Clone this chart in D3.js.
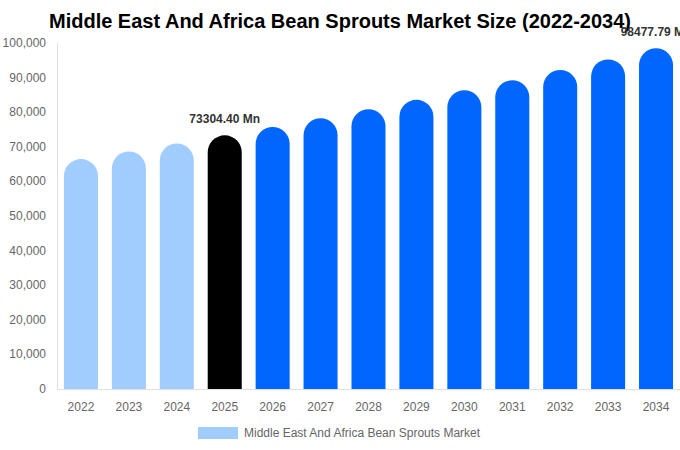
<!DOCTYPE html>
<html>
<head>
<meta charset="utf-8">
<script src="https://cdn.jsdelivr.net/npm/d3@7"></script>
<style>
  body { margin: 0; background: #fff; }
  text { font-family: "Liberation Sans", Arial, sans-serif; }
</style>
</head>
<body>
<script>
// chart data
var years = ["2022","2023","2024","2025","2026","2027","2028","2029","2030","2031","2032","2033","2034"];
var values = [66440, 68650, 70940, 73304.40, 75750, 78270, 80870, 83570, 86350, 89220, 92200, 95270, 98477.79];
var yTicks = [0, 10000, 20000, 30000, 40000, 50000, 60000, 70000, 80000, 90000, 100000];
var labelled = {"2025": "73304.40 Mn", "2034": "98477.79 Mn"};

var w = 680, h = 450;

var svg = d3.select("body").append("svg")
    .attr("width", w)
    .attr("height", h);

var x = d3.scaleBand()
    .domain(years)
    .range([57, 680])
    .paddingInner(0.29)
    .paddingOuter(0.145);

var y = d3.scaleLinear()
    .domain([0, 100000])
    .range([389, 43]);

function color(yr) {
  if (+yr < 2025) return "#a0cdfe";
  if (+yr == 2025) return "#000000";
  return "#0066fe";
}

// title
svg.append("text")
    .attr("x", 340)
    .attr("y", 28)
    .attr("text-anchor", "middle")
    .style("font-size", "20px")
    .style("font-weight", "bold")
    .style("fill", "#000")
    .text("Middle East And Africa Bean Sprouts Market Size (2022-2034)");

// y axis labels
svg.selectAll(".ytick")
    .data(yTicks)
  .enter().append("text")
    .attr("class", "ytick")
    .attr("x", 46)
    .attr("y", function(d) { return y(d) + 4; })
    .attr("text-anchor", "end")
    .style("font-size", "12px")
    .style("fill", "#666")
    .text(d3.format(","));

// axis lines
svg.append("line")
    .attr("x1", 57.5).attr("x2", 57.5)
    .attr("y1", y(100000)).attr("y2", y(0))
    .style("stroke", "#e0e0e0");
svg.append("line")
    .attr("x1", 57).attr("x2", 680)
    .attr("y1", y(0) + 0.5).attr("y2", y(0) + 0.5)
    .style("stroke", "#e0e0e0");

// bars with rounded tops
function barPath(d, i) {
  var x0 = x(years[i]), bw = x.bandwidth(), r = bw / 2;
  var top = y(d), bot = y(0);
  return "M" + x0 + "," + bot +
    "V" + (top + r) +
    "A" + r + "," + r + " 0 0 1 " + (x0 + bw) + "," + (top + r) +
    "V" + bot + "Z";
}

svg.selectAll(".bar")
    .data(values)
  .enter().append("path")
    .attr("class", "bar")
    .attr("d", barPath)
    .style("fill", function(d, i) { return color(years[i]); });

// value labels
svg.selectAll(".vlabel")
    .data(years.filter(function(yr) { return labelled[yr]; }))
  .enter().append("text")
    .attr("class", "vlabel")
    .attr("x", function(yr) { return x(yr) + x.bandwidth() / 2; })
    .attr("y", function(yr) { return y(values[years.indexOf(yr)]) - 12; })
    .attr("text-anchor", "middle")
    .style("font-size", "12px")
    .style("font-weight", "bold")
    .style("fill", "#333")
    .text(function(yr) { return labelled[yr]; });

// x labels
svg.selectAll(".xtick")
    .data(years)
  .enter().append("text")
    .attr("class", "xtick")
    .attr("x", function(d) { return x(d) + x.bandwidth() / 2; })
    .attr("y", 411)
    .attr("text-anchor", "middle")
    .style("font-size", "12px")
    .style("fill", "#666")
    .text(function(d) { return d; });

// legend
svg.append("rect")
    .attr("x", 198).attr("y", 427)
    .attr("width", 40).attr("height", 12)
    .style("fill", "#a0cdfe");
svg.append("text")
    .attr("x", 244).attr("y", 437)
    .style("font-size", "12px")
    .style("fill", "#666")
    .text("Middle East And Africa Bean Sprouts Market");
</script>
</body>
</html>
